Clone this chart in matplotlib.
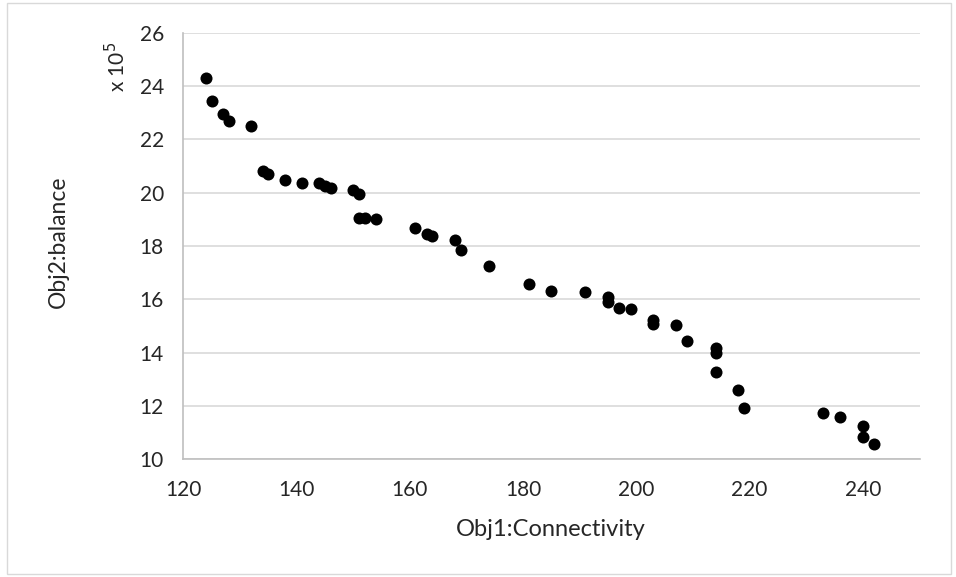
import matplotlib
matplotlib.use("Agg")
from matplotlib import pyplot as plt
from matplotlib.patches import Rectangle

# Obj1 (connectivity) and Obj2 (balance, in units of 1e5)
connectivity = [124, 125, 127, 128, 132, 134, 135, 138, 141, 144, 145, 146,
                150, 151, 151, 152, 154, 161, 163, 164, 168, 169, 174, 181,
                185, 191, 195, 195, 197, 199, 203, 203, 207, 209, 214, 214,
                214, 218, 219, 233, 236, 240, 240, 242]
balance = [24.30, 23.43, 22.95, 22.70, 22.52, 20.83, 20.72, 20.47, 20.37,
           20.36, 20.25, 20.19, 20.12, 19.94, 19.07, 19.07, 19.02, 18.69,
           18.44, 18.38, 18.21, 17.84, 17.27, 16.58, 16.31, 16.28, 16.08,
           15.90, 15.69, 15.63, 15.24, 15.07, 15.03, 14.42, 14.16, 13.99,
           13.28, 12.59, 11.93, 11.75, 11.59, 11.24, 10.82, 10.59]

x_ticks = [120, 140, 160, 180, 200, 220, 240]
y_ticks = [10, 12, 14, 16, 18, 20, 22, 24, 26]

plt.rcParams['font.family'] = ['Lato', 'DejaVu Sans']

fig = plt.figure(figsize=(9.56, 5.77), dpi=100)
ax = fig.add_axes([0.1917, 0.2040, 0.9619 - 0.1917, 0.9430 - 0.2040])

ax.scatter(connectivity, balance, s=75, color='black', zorder=3, linewidths=0)

ax.set_xlim(120, 250)
ax.set_ylim(10, 26)
ax.set_xticks(x_ticks)
ax.set_yticks(y_ticks)
ax.tick_params(axis='both', length=0, labelsize=15, colors='#262626')
ax.tick_params(axis='x', pad=15)
ax.tick_params(axis='y', pad=14)

ax.grid(axis='y', color='#d9d9d9', linewidth=1.2)
ax.set_axisbelow(True)
for side in ('top', 'right'):
    ax.spines[side].set_visible(False)
for side in ('left', 'bottom'):
    ax.spines[side].set_color('#bfbfbf')
    ax.spines[side].set_linewidth(1.2)

fig.text(0.5764, 1 - 530 / 577, 'Obj1:Connectivity', ha='center', va='center',
         fontsize=17, color='#262626')
fig.text(58 / 956, 1 - 242 / 577, 'Obj2:balance', ha='center', va='center',
         rotation=90, fontsize=16.5, color='#262626')
fig.text(117 / 956, 1 - 67 / 577, r'x 10$^{5}$', ha='center', va='center',
         rotation=90, fontsize=15, color='#262626')

fig.patches.append(Rectangle((7 / 956, 3 / 577), 944 / 956, 571 / 577,
                             transform=fig.transFigure, fill=False,
                             edgecolor='#d9d9d9', linewidth=1))

fig.savefig('out.png', dpi=100)
